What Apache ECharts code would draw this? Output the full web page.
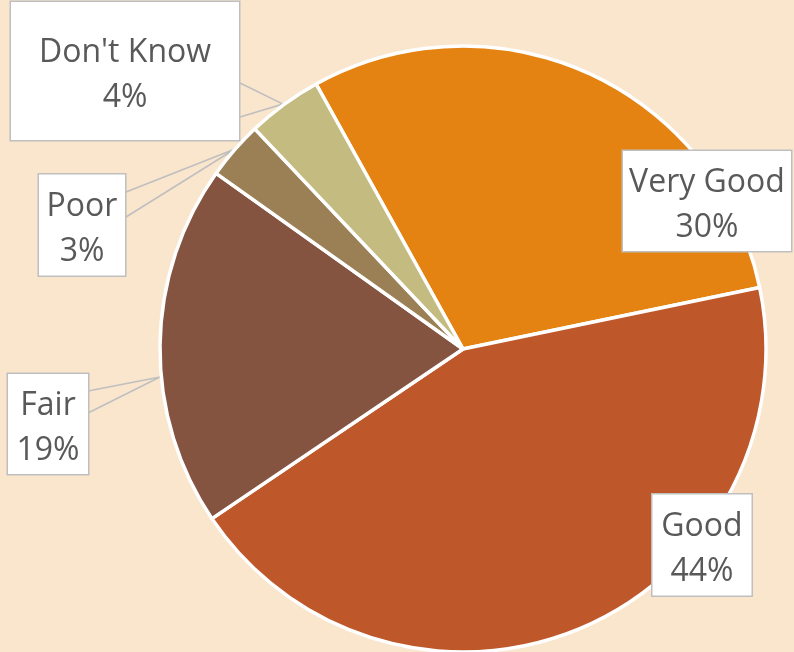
<!DOCTYPE html>
<html>
<head>
<meta charset="utf-8">
<script src="https://cdn.jsdelivr.net/npm/echarts@6/dist/echarts.min.js"></script>
<style>
html,body{margin:0;padding:0;background:#FAE5CD;}
#c{width:794px;height:652px;}
</style>
</head>
<body>
<div id="c"></div>
<script>
// Data (shares in percent; labels show rounded values)
const categories = ['Very Good', 'Good', 'Fair', 'Poor', "Don't Know"];
const values = [29.8, 43.8, 19.3, 3.1, 4.0];
const colors = ['#E58312', '#BE582B', '#845441', '#9B8056', '#C3BB7F'];

// Callout layout (label box centre, box size, pointer: base, tip, base)
const boxCenter = [[707, 201], [702, 545], [48, 424], [82, 225], [125, 71]];
const boxSize = [[170, 100], [101, 101], [82, 100], [88, 101], [230, 138]];
const pointer = [
  [[622, 168], [604, 178], [622, 187]],
  null,
  [[88, 391], [160, 377], [88, 413]],
  [[126, 192], [235, 149], [126, 217]],
  [[240, 83], [283, 104], [240, 117]]
];

const chart = echarts.init(document.getElementById('c'));
const data = categories.map((name, i) => {
  const w = boxSize[i][0], h = boxSize[i][1];
  const padV = (h - 90) / 2;
  return {
    name,
    value: values[i],
    itemStyle: { color: colors[i] },
    label: { width: w - 2, padding: [padV, 0, padV, 0] },
    labelLine: { show: !!pointer[i] }
  };
});

chart.setOption({
  backgroundColor: '#FAE5CD',
  animation: false,
  series: [{
    type: 'pie',
    center: [463, 349],
    radius: 303,
    startAngle: 119,
    clockwise: true,
    data,
    itemStyle: { borderColor: '#ffffff', borderWidth: 3.5 },
    label: {
      show: true,
      position: 'outside',
      formatter: p => '{a|' + p.name + '}\n{b|' + Math.round(p.value) + '%}',
      fontFamily: 'Open Sans',
      fontSize: 32,
      color: '#595959',
      align: 'center',
      backgroundColor: '#ffffff',
      borderColor: '#BFBFBF',
      borderWidth: 1.5,
      rich: {
        a: { fontFamily: 'Open Sans', fontSize: 32, color: '#595959', lineHeight: 53, align: 'center' },
        b: { fontFamily: 'Open Sans', fontSize: 32, color: '#595959', lineHeight: 37, align: 'center' }
      }
    },
    labelLine: {
      show: true,
      lineStyle: { color: '#BFBFBF', width: 1.5 }
    },
    labelLayout: function (params) {
      const i = params.dataIndex;
      const res = {
        x: boxCenter[i][0],
        y: boxCenter[i][1],
        align: 'center',
        verticalAlign: 'middle'
      };
      if (pointer[i]) res.labelLinePoints = pointer[i];
      return res;
    }
  }]
});
</script>
</body>
</html>
